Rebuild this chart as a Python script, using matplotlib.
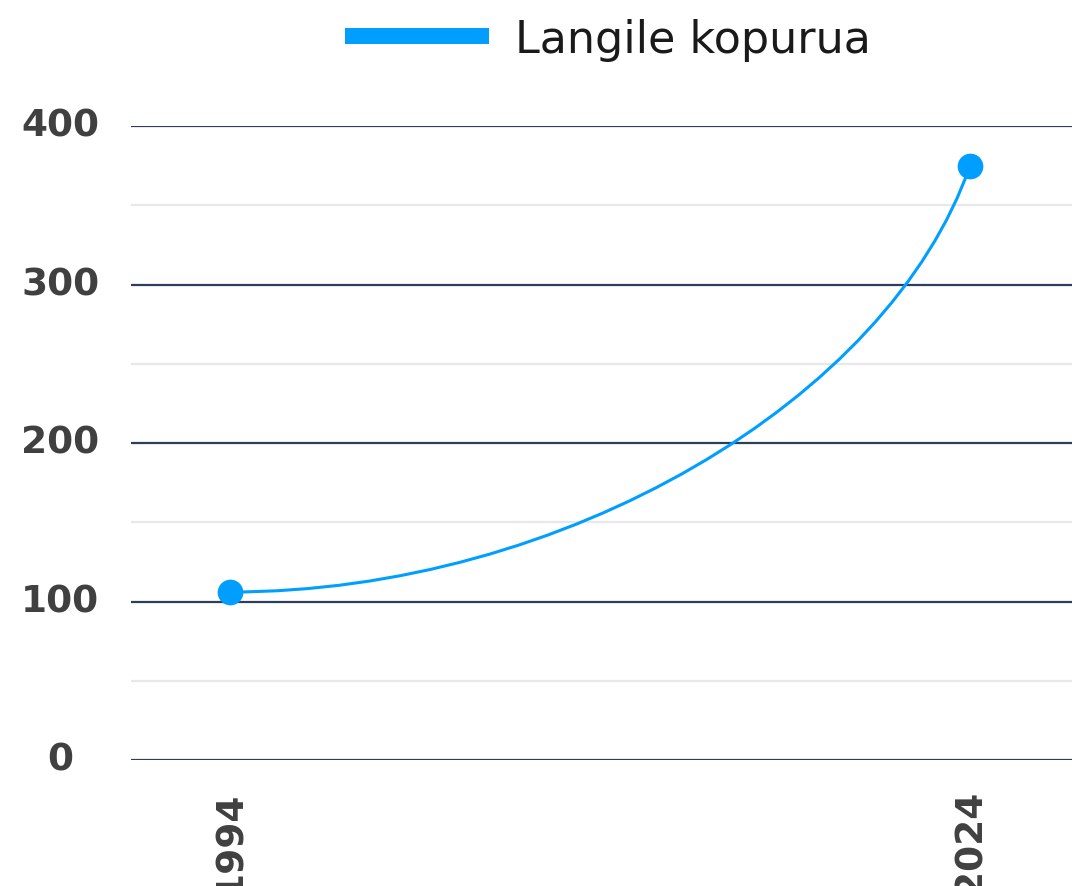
import matplotlib
matplotlib.use("Agg")
import matplotlib.pyplot as plt
from matplotlib.path import Path
from matplotlib.patches import PathPatch
from matplotlib.lines import Line2D
import matplotlib.transforms as mtransforms

# ---- data ----
categories = ["1994", "2024"]
values = [106, 375]
series_name = "Langile kopurua"
y_ticks = [0, 100, 200, 300, 400]
y_minor = [50, 150, 250, 350]

LINE_C = "#009EFF"
MAJOR_C = "#2B3F5C"
MINOR_C = "#E6E8EB"
TICK_C = "#404040"

W, H = 1072, 887
fig = plt.figure(figsize=(W / 100, H / 100), dpi=100)
ax = fig.add_axes([131 / W, (H - 761) / H, 1 - 131 / W, (761 - 127) / H])

xs = list(range(len(categories)))
ax.set_xlim(-0.1338, 1.1378)
ax.set_ylim(0, 400)

# gridlines
for v in y_minor:
    ax.axhline(v, color=MINOR_C, lw=1.6, zorder=1)
for v in y_ticks:
    ax.axhline(v, color=MAJOR_C, lw=1.6, zorder=2)

# smooth curve between the points (cubic Bezier derived from data)
x0, x1 = xs[0], xs[-1]
y0, y1 = values[0], values[-1]
dx, dy = x1 - x0, y1 - y0
verts = [(x0, y0), (x0 + 0.45 * dx, y0), (x0 + 0.89 * dx, y0 + 0.45 * dy), (x1, y1)]
codes = [Path.MOVETO, Path.CURVE4, Path.CURVE4, Path.CURVE4]
ax.add_patch(PathPatch(Path(verts, codes), facecolor="none", edgecolor=LINE_C,
                       lw=2.2, zorder=3, clip_on=False))
ax.plot(xs, values, linestyle="none", marker="o", ms=18.5, color=LINE_C,
        markeredgewidth=0, zorder=4, clip_on=False)

for s in ax.spines.values():
    s.set_visible(False)

ax.set_yticks(y_ticks)
ax.set_yticklabels([str(v) for v in y_ticks])
ax.set_xticks(xs)
ax.set_xticklabels(categories, rotation=90)
ax.tick_params(axis="both", length=0, labelsize=27, labelcolor=TICK_C)
ax.tick_params(axis="y", pad=51)
ax.tick_params(axis="x", pad=21)
offset = mtransforms.ScaledTranslation(0, 3 / 72, fig.dpi_scale_trans)
for lab in ax.get_yticklabels():
    lab.set_fontweight("bold")
    lab.set_ha("center")
    lab.set_transform(lab.get_transform() + offset)
for lab in ax.get_xticklabels():
    lab.set_fontweight("bold")
    lab.set_va("top")

handle = Line2D([], [], color=LINE_C, lw=11.5, solid_capstyle="butt")
leg = fig.legend([handle], [series_name], loc="center",
                 bbox_to_anchor=(608 / W, 1 - 40 / H), frameon=False,
                 fontsize=32, handlelength=3.24, handletextpad=0.58,
                 borderpad=0, borderaxespad=0)
for t in leg.get_texts():
    t.set_color("#1A1A1A")

fig.savefig("out.png", dpi=100)
